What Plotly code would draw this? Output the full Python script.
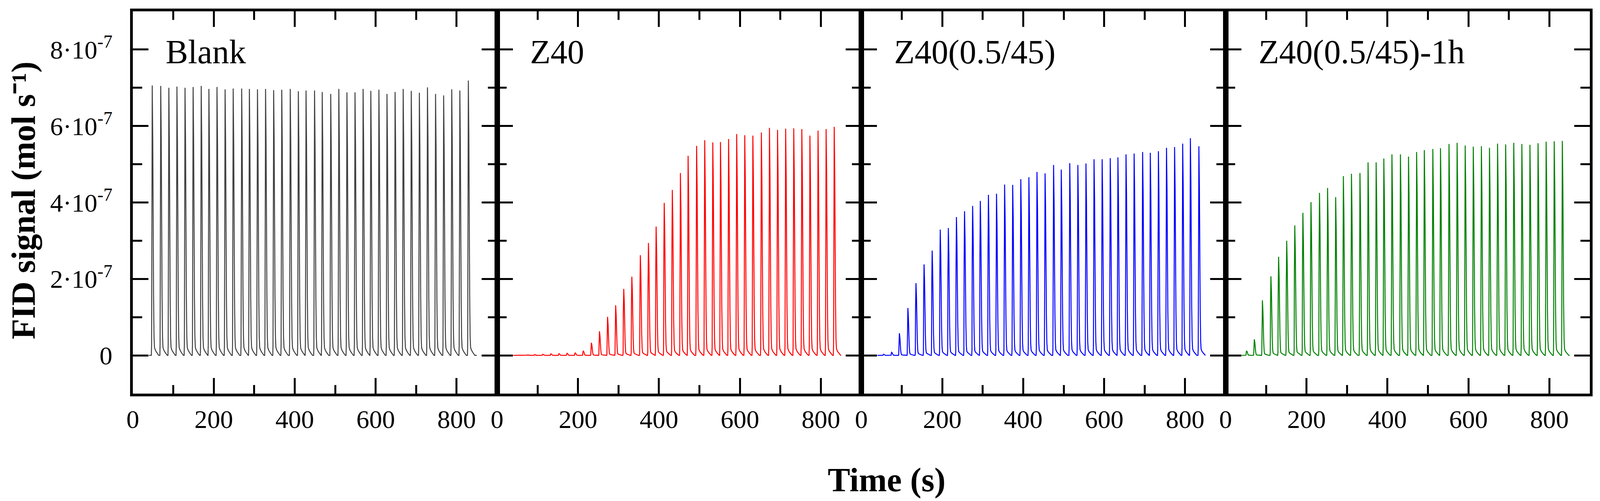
import plotly.graph_objects as go
from plotly.subplots import make_subplots

# panel names and line colours
panels = ["Blank", "Z40", "Z40(0.5/45)", "Z40(0.5/45)-1h"]
colors = ["#404040", "#ff0000", "#0000ff", "#008000"]

# peak times (s)
blank_t = [48, 69, 89, 109, 129, 149, 169, 188, 208, 228, 248, 269, 288, 308, 328, 348, 368, 389, 409, 428,
           449, 468, 489, 509, 529, 549, 569, 588, 608, 628, 648, 668, 688, 708, 728, 748, 768, 788, 808, 829]
z40_t = [54, 75, 93, 113, 133, 153, 173, 193, 213, 233, 253, 273, 293, 313, 333, 354, 374, 393, 413, 433,
         453, 472, 493, 513, 533, 552, 572, 592, 612, 632, 653, 673, 693, 713, 733, 753, 773, 793, 813, 833]
z40_05_t = [55, 75, 94, 115, 135, 155, 175, 195, 215, 235, 255, 275, 294, 314, 334, 354, 374, 394, 414, 434,
            454, 475, 494, 515, 535, 555, 575, 595, 615, 634, 654, 674, 695, 714, 734, 754, 774, 794, 813, 834]
z40_05_1h_t = [52, 71, 91, 112, 131, 151, 171, 191, 211, 232, 252, 272, 291, 311, 332, 352, 372, 391, 411, 432,
               452, 472, 491, 512, 531, 552, 572, 592, 612, 632, 652, 672, 692, 712, 732, 752, 772, 792, 812, 832]

# peak heights (units of 1e-7 mol/s)
blank_h = [7.06, 7.05, 7.00, 7.03, 7.00, 7.02, 7.05, 6.97, 7.02, 6.96, 6.98, 6.98, 6.97, 6.96, 6.97, 6.94,
           6.95, 6.97, 6.91, 6.93, 6.93, 6.89, 6.84, 6.97, 6.88, 6.88, 6.97, 6.92, 6.95, 6.84, 6.89, 6.97,
           6.92, 6.87, 7.01, 6.84, 6.80, 6.96, 6.93, 7.19]
z40_h = [0.005, 0.01, 0.02, 0.03, 0.04, 0.045, 0.055, 0.065, 0.12, 0.33, 0.63, 1.01, 1.31, 1.74, 2.06, 2.62,
         2.94, 3.37, 3.99, 4.33, 4.77, 5.22, 5.48, 5.63, 5.57, 5.58, 5.66, 5.79, 5.76, 5.75, 5.83, 5.95,
         5.90, 5.93, 5.94, 5.92, 5.75, 5.88, 5.92, 5.98]
z40_05_h = [0.03, 0.08, 0.58, 1.24, 1.89, 2.38, 2.74, 3.29, 3.33, 3.62, 3.77, 3.91, 4.04, 4.20, 4.23, 4.47,
            4.46, 4.61, 4.66, 4.80, 4.76, 4.98, 4.86, 5.03, 4.98, 5.02, 5.13, 5.13, 5.16, 5.18, 5.26, 5.28,
            5.32, 5.30, 5.34, 5.43, 5.45, 5.54, 5.68, 5.47]
z40_05_1h_h = [0.12, 0.42, 1.44, 2.07, 2.58, 3.00, 3.40, 3.73, 4.01, 4.25, 4.38, 4.14, 4.69, 4.75, 4.77, 5.05,
               5.05, 5.15, 5.26, 5.26, 5.20, 5.32, 5.37, 5.40, 5.42, 5.53, 5.56, 5.49, 5.46, 5.47, 5.43, 5.54,
               5.52, 5.56, 5.53, 5.51, 5.55, 5.59, 5.60, 5.61]

pulse_dt = [-2.2, -1.6, -1.0, 0.0, 1.3, 2.2, 3.3, 4.4, 5.5, 7.5, 10.5, 16.0]
pulse_rel = [0.0, 0.04, 0.65, 1.0, 0.8, 0.5, 0.22, 0.07, 0.03, 0.02, 0.012, 0.0]

run_start, run_end = 40, 850

x_ticks = [0, 200, 400, 600, 800]
x_minor = [100, 300, 500, 700]
y_ticks = [0, 2e-7, 4e-7, 6e-7, 8e-7]
y_ticktext = ["0", "2·10<sup>-7</sup>", "4·10<sup>-7</sup>", "6·10<sup>-7</sup>", "8·10<sup>-7</sup>"]
y_minor = [1e-7, 3e-7, 5e-7, 7e-7]

times = [blank_t, z40_t, z40_05_t, z40_05_1h_t]
heights = [blank_h, z40_h, z40_05_h, z40_05_1h_h]


def build_trace(peak_t, peak_h):
    xs, ys = [run_start], [0.0]
    for t, h in zip(peak_t, peak_h):
        for dt, r in zip(pulse_dt, pulse_rel):
            xs.append(t + dt)
            ys.append(h * 1e-7 * r)
    xs.append(run_end)
    ys.append(0.0)
    return xs, ys


fig = make_subplots(rows=1, cols=4, shared_yaxes=True, horizontal_spacing=0)

for i in range(4):
    xs, ys = build_trace(times[i], heights[i])
    fig.add_trace(go.Scatter(x=xs, y=ys, mode="lines", line=dict(color=colors[i], width=2.5),
                             showlegend=False), row=1, col=i + 1)

font = "Liberation Serif"
axis_common = dict(showline=True, linecolor="black", linewidth=7, mirror="ticks",
                   ticks="inside", ticklen=40, tickwidth=5, tickcolor="black",
                   showgrid=False, zeroline=False, automargin=False,
                   tickfont=dict(family=font, size=66, color="black"))

for i in range(4):
    fig.update_xaxes(range=[0, 900], tickmode="array", tickvals=x_ticks,
                     minor=dict(tickmode="array", tickvals=x_minor, ticks="inside", ticklen=22,
                                tickwidth=5, tickcolor="black", showgrid=False),
                     ticklabelstandoff=2, **axis_common, row=1, col=i + 1)
    fig.update_yaxes(range=[-1e-7, 9e-7], tickmode="array", tickvals=y_ticks, ticktext=y_ticktext,
                     minor=dict(tickmode="array", tickvals=y_minor, ticks="inside", ticklen=24,
                                tickwidth=5, tickcolor="black", showgrid=False),
                     ticklabelstandoff=32, showticklabels=(i == 0), **axis_common, row=1, col=i + 1)

for i, name in enumerate(panels):
    xr = "x domain" if i == 0 else "x%d domain" % (i + 1)
    yr = "y domain" if i == 0 else "y%d domain" % (i + 1)
    fig.add_annotation(text=name, xref=xr, yref=yr, x=0.088, y=0.894, xanchor="left", yanchor="middle",
                       showarrow=False, font=dict(family=font, size=86, color="black"))

fig.add_annotation(text="<b>FID signal (mol s⁻¹)</b>", xref="paper", yref="paper",
                   x=-0.0752, y=0.505, textangle=-90, xanchor="center", yanchor="middle",
                   showarrow=False, font=dict(family=font, size=86, color="black"))
fig.add_annotation(text="<b>Time (s)</b>", xref="paper", yref="paper", x=0.5173, y=-0.226,
                   xanchor="center", yanchor="middle", showarrow=False,
                   font=dict(family=font, size=86, color="black"))

# the browser page is 4096 px wide with an 8 px body margin, so fit the figure inside it
fig.update_layout(width=4080, height=1275, margin=dict(l=332, r=18, t=21, b=275),
                  paper_bgcolor="white", plot_bgcolor="white")

fig.write_html("out.html")
